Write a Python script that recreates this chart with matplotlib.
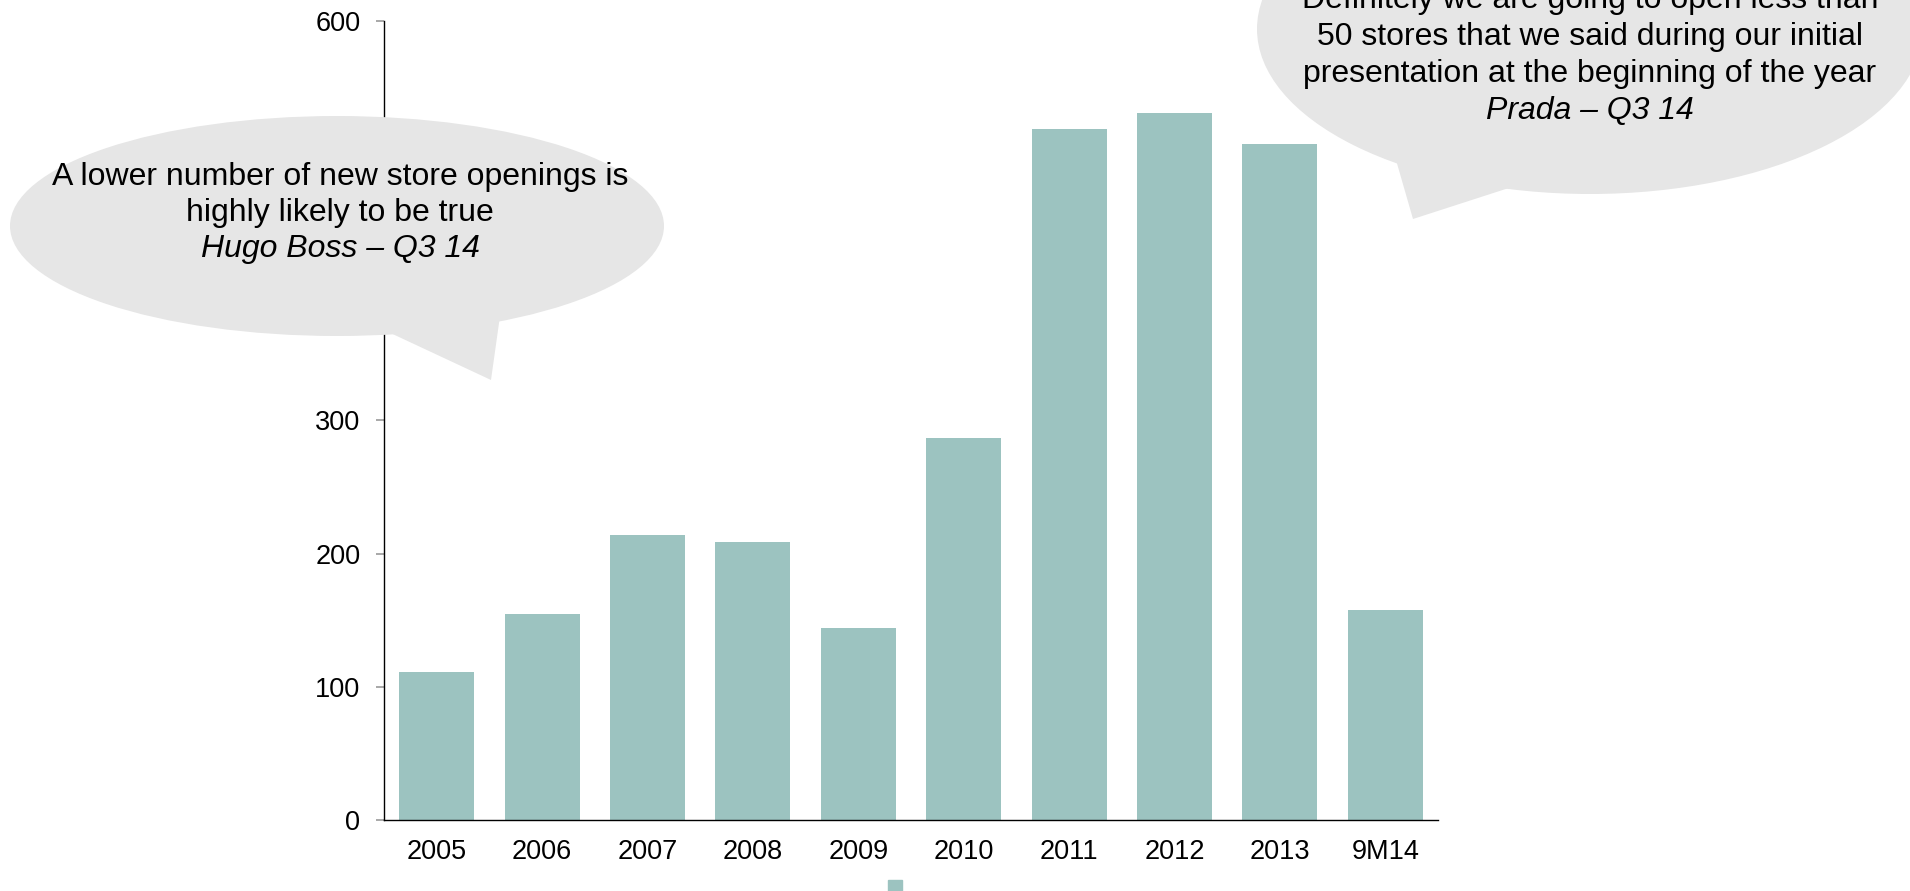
import matplotlib
matplotlib.use("Agg")
import matplotlib.pyplot as plt
from matplotlib.patches import Ellipse, Polygon, Patch

plt.rcParams['font.family'] = ['Liberation Sans', 'DejaVu Sans']

# new store openings per year
categories = ['2005', '2006', '2007', '2008', '2009', '2010', '2011', '2012', '2013', '9M14']
openings = [111, 155, 214, 209, 144, 287, 519, 531, 508, 158]
yticks = [0, 100, 200, 300, 400, 500, 600]

left_quote = ['A lower number of new store openings is',
              'highly likely to be true',
              'Hugo Boss \u2013 Q3 14']
right_quote = ['Definitely we are going to open less than',
               '50 stores that we said during our initial',
               'presentation at the beginning of the year',
               'Prada \u2013 Q3 14']

bar_color = '#9cc3c0'
bubble_color = '#e6e6e6'

W, H = 1910, 891
fig = plt.figure(figsize=(W / 100, H / 100), dpi=100)
ax = fig.add_axes([384 / W, 1 - 820 / H, (1438 - 384) / W, (820 - 21) / H])

x = range(len(categories))
ax.bar(x, openings, width=0.71, color=bar_color, zorder=2, label=' ')
ax.set_xlim(-0.5, len(categories) - 0.5)
ax.set_ylim(0, 600)
ax.set_xticks(list(x))
ax.set_xticklabels(categories)
ax.set_yticks(yticks)

for side in ['top', 'right']:
    ax.spines[side].set_visible(False)
for side in ['left', 'bottom']:
    ax.spines[side].set_color('black')
    ax.spines[side].set_linewidth(1.0)

ax.tick_params(axis='x', length=0, pad=14, labelsize=19.5)
ax.tick_params(axis='y', length=6, width=1.2, color='#999999', pad=11, labelsize=19.5)

# small legend swatch under the chart
fig.legend(handles=[Patch(color=bar_color)], labels=[''], loc='upper left',
           bbox_to_anchor=(888 / W, 1 - 880 / H), frameon=False, fontsize=19.5,
           handlelength=0.5, handleheight=0.8, borderpad=0, borderaxespad=0,
           handletextpad=0)

# speech bubbles drawn in pixel space on top of the chart
ov = fig.add_axes([0, 0, 1, 1], zorder=5)
ov.set_xlim(0, W)
ov.set_ylim(H, 0)
ov.axis('off')
ov.patch.set_alpha(0)

ov.add_patch(Ellipse((337, 226), 654, 220, color=bubble_color, lw=0))
ov.add_patch(Polygon([(384, 330), (491, 380), (500, 316)], closed=True,
                     color=bubble_color, lw=0))

ov.add_patch(Ellipse((1590, 29), 666, 330, color=bubble_color, lw=0))
ov.add_patch(Polygon([(1396, 160), (1413, 219), (1515, 186)], closed=True,
                     color=bubble_color, lw=0))

for i, line in enumerate(left_quote):
    style = 'italic' if i == len(left_quote) - 1 else 'normal'
    ov.text(340, 177 + 36 * i, line, ha='center', va='center', fontsize=23,
            style=style, color='black')

for i, line in enumerate(right_quote):
    style = 'italic' if i == len(right_quote) - 1 else 'normal'
    ov.text(1590, 0 + 37 * i, line, ha='center', va='center', fontsize=23,
            style=style, color='black')

fig.savefig('out.png', dpi=100)
